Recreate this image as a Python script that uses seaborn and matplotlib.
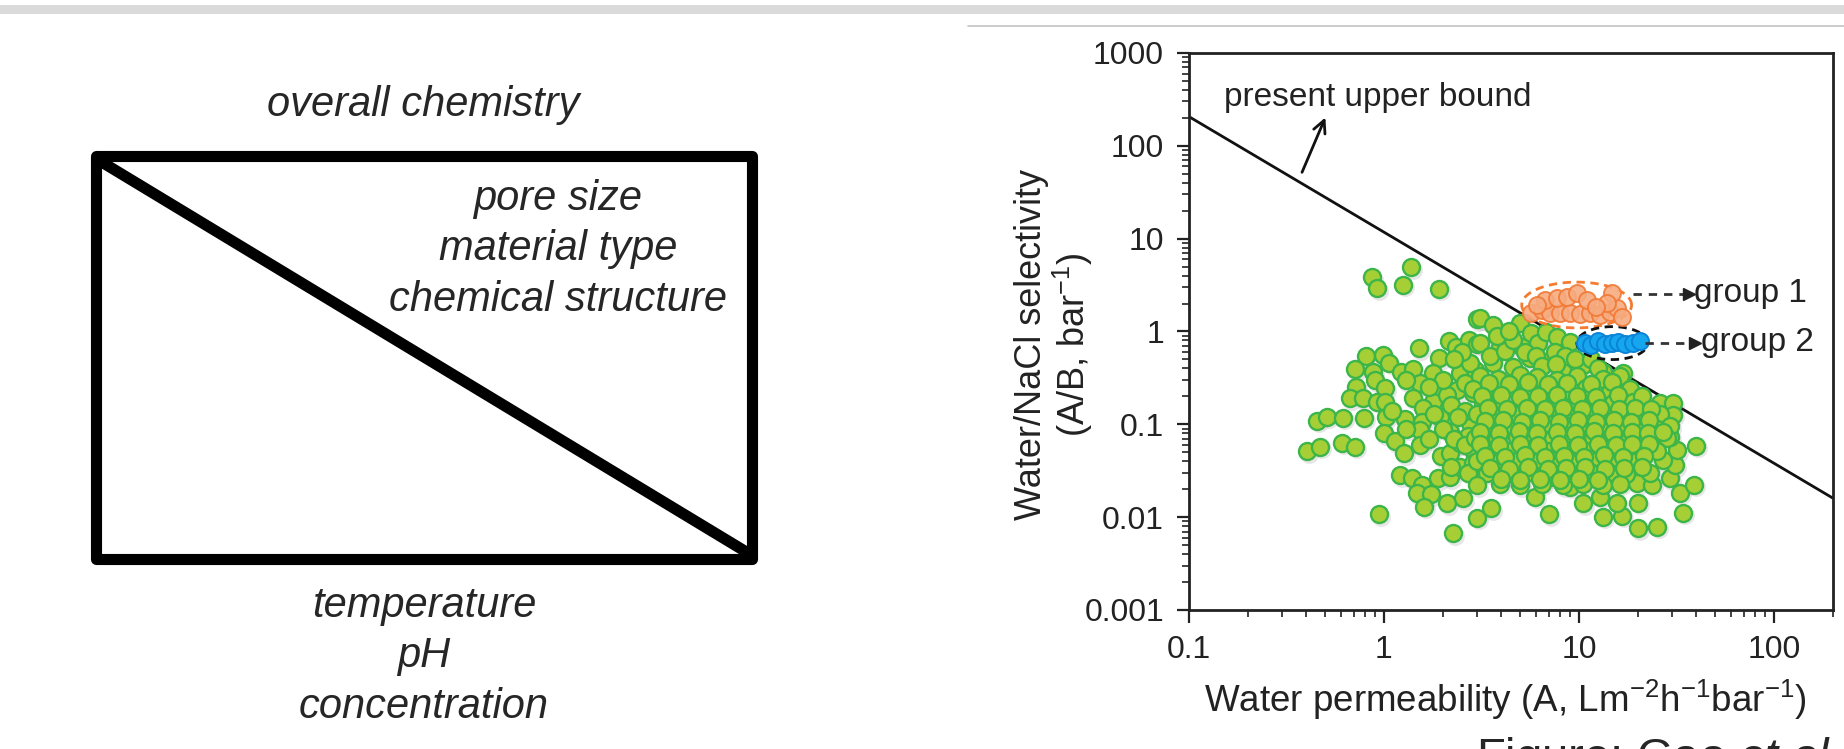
import numpy as np
import pandas as pd
import matplotlib
matplotlib.use("Agg")
import matplotlib.pyplot as plt
import seaborn as sns
from matplotlib.patches import Rectangle
from matplotlib.ticker import LogLocator, NullFormatter
from matplotlib.transforms import offset_copy

sns.set_style("ticks")
plt.rcParams["font.family"] = ["Liberation Sans", "DejaVu Sans"]
plt.rcParams["mathtext.fontset"] = "custom"
plt.rcParams["mathtext.rm"] = "Liberation Sans"
plt.rcParams["mathtext.it"] = "Liberation Sans:italic"
plt.rcParams["mathtext.default"] = "regular"

# ---- data read off the Gao et al. chart (A in Lm-2h-1bar-1, A/B in bar-1) ----
# sparse points, upper left part of the cloud
green_upper_left = [(0.865, 3.84), (0.924, 2.92), (1.37, 4.92), (1.25, 3.17), (1.92, 2.87),
                    (3.01, 1.35), (2.16, 0.796), (2.34, 0.676), (2.74, 0.81), (3.01, 0.733),
                    (1.52, 0.659), (0.809, 0.548), (0.985, 0.562), (1.06, 0.461), (1.92, 0.514),
                    (2.66, 0.473), (0.71, 0.392), (0.881, 0.369), (1.23, 0.369), (1.41, 0.392),
                    (1.79, 0.355), (2.45, 0.355), (2.93, 0.385)]
# left / lower left part of the cloud
green_left = [(0.90, 0.30), (1.53, 0.277), (1.86, 0.254), (2.36, 0.234), (2.87, 0.216),
              (0.718, 0.254), (0.67, 0.191), (0.783, 0.191), (1.01, 0.244), (0.918, 0.175),
              (1.01, 0.175), (1.41, 0.191), (1.79, 0.175), (2.10, 0.207), (1.59, 0.149),
              (0.455, 0.109), (0.508, 0.121), (0.618, 0.118), (0.789, 0.118), (1.02, 0.121),
              (1.28, 0.113), (1.56, 0.107), (1.94, 0.121), (2.18, 0.0832), (2.76, 0.1026),
              (1.53, 0.0869), (1.00, 0.080), (1.14, 0.066), (1.26, 0.0488), (1.53, 0.0598),
              (1.96, 0.0455), (2.18, 0.0488), (2.45, 0.0624), (2.87, 0.0528), (0.402, 0.0515),
              (0.47, 0.0574), (0.607, 0.0634), (0.71, 0.0574), (1.21, 0.0284), (1.40, 0.0262),
              (1.56, 0.0222), (1.90, 0.0262), (2.18, 0.0269), (2.45, 0.0349), (2.87, 0.038),
              (1.47, 0.018), (1.74, 0.0177), (1.61, 0.0129), (2.10, 0.0141), (2.53, 0.016),
              (0.946, 0.0107), (2.27, 0.0067), (2.99, 0.00986)]
# lower right edge of the cloud
green_lower_right = [(3.53, 0.0124), (7.05, 0.0108), (13.3, 0.0101), (16.6, 0.0104), (20.1, 0.0143),
                     (20.1, 0.00757), (25.0, 0.00788), (34.0, 0.0111), (33.0, 0.0183), (38.9, 0.0222),
                     (39.8, 0.0584), (26.0, 0.168), (30.3, 0.168), (30.4, 0.126), (5.95, 0.0166),
                     (7.10, 0.0272), (9.0, 0.0213), (10.5, 0.0141), (12.8, 0.0166), (15.6, 0.0141),
                     (19.8, 0.0231), (23.6, 0.0222), (29.3, 0.0262), (31.1, 0.0364), (31.7, 0.0528),
                     (27.1, 0.0412), (29.3, 0.0735), (25.0, 0.1026), (22.2, 0.0574)]
# top of the cloud, under the line
green_top = [(3.11, 1.39), (3.64, 1.17), (3.11, 0.746), (3.94, 0.686), (4.98, 1.22),
             (5.08, 0.686), (5.71, 0.957), (6.18, 0.746), (6.8, 0.98), (7.69, 0.879),
             (9.0, 0.776), (2.76, 0.454), (3.64, 0.454), (4.60, 0.418), (5.61, 0.514),
             (6.83, 0.473), (8.30, 0.369), (10.5, 0.435), (13.3, 0.369), (16.9, 0.355),
             (3.5, 0.55), (4.2, 0.62), (4.6, 0.8), (3.8, 0.9), (4.4, 1.0), (5.3, 0.6),
             (6.0, 0.55), (7.5, 0.6), (8.5, 0.55), (9.5, 0.5), (6.5, 0.42), (7.6, 0.45),
             (11.5, 0.5), (12.5, 0.4), (2.5, 0.6), (2.3, 0.5), (2.0, 0.3), (2.6, 0.28),
             (1.7, 0.25), (2.2, 0.16), (2.6, 0.14), (1.8, 0.13), (2.4, 0.12), (2.0, 0.09),
             (2.7, 0.075), (2.3, 0.07), (1.7, 0.07), (2.6, 0.06), (2.2, 0.035), (2.7, 0.03),
             (1.3, 0.3), (1.1, 0.14), (1.3, 0.09)]
# dense core of the cloud
green_core = [(3.11, 0.33), (3.86, 0.31), (4.98, 0.34), (6.07, 0.32), (7.68, 0.30), (9.73, 0.335),
              (13.3, 0.31), (16.2, 0.33),
              (2.87, 0.24), (3.50, 0.23), (4.43, 0.245), (5.50, 0.225), (6.83, 0.24), (8.65, 0.23),
              (10.9, 0.245), (14.4, 0.225), (18.3, 0.24),
              (3.23, 0.17), (3.93, 0.18), (4.98, 0.165), (6.31, 0.175), (7.84, 0.18), (9.73, 0.168),
              (12.1, 0.178), (15.0, 0.17), (19.0, 0.175),
              (2.99, 0.13), (3.71, 0.122), (4.60, 0.128), (5.83, 0.12), (7.38, 0.13), (9.00, 0.124),
              (11.2, 0.13), (13.9, 0.12), (16.9, 0.127), (21.4, 0.122), (26.0, 0.13),
              (3.36, 0.095), (4.26, 0.09), (5.39, 0.097), (6.83, 0.092), (8.65, 0.095), (10.7, 0.09),
              (13.3, 0.096), (16.6, 0.092), (20.6, 0.094), (25.0, 0.09), (29.3, 0.095),
              (2.93, 0.072), (3.78, 0.069), (4.79, 0.073), (5.95, 0.07), (7.38, 0.072), (9.36, 0.069),
              (11.8, 0.073), (14.7, 0.07), (18.3, 0.072), (23.1, 0.069), (28.2, 0.072),
              (3.36, 0.053), (4.26, 0.051), (5.39, 0.054), (6.83, 0.052), (8.65, 0.053), (10.7, 0.051),
              (13.3, 0.054), (16.9, 0.052), (20.6, 0.053), (25.0, 0.051),
              (2.99, 0.04), (3.78, 0.038), (4.79, 0.04), (6.07, 0.039), (7.68, 0.041), (9.73, 0.038),
              (12.3, 0.04), (15.6, 0.039), (19.8, 0.04),
              (3.36, 0.03), (4.26, 0.029), (5.61, 0.031), (7.10, 0.03), (9.00, 0.029), (11.4, 0.031),
              (14.4, 0.03), (17.5, 0.029), (23.1, 0.03),
              (2.99, 0.022), (3.93, 0.023), (4.98, 0.022), (6.44, 0.023), (8.31, 0.022), (10.5, 0.023),
              (13.3, 0.022), (16.2, 0.023)]
green_core_fill = [(3.45, 0.28), (4.4, 0.27), (5.5, 0.285), (6.9, 0.275), (8.7, 0.28), (11.5, 0.27),
                   (14.8, 0.285),
                   (3.2, 0.2), (4.0, 0.205), (5.0, 0.198), (6.2, 0.2), (7.7, 0.205), (9.8, 0.2),
                   (12.2, 0.198), (15.8, 0.205), (21.0, 0.2),
                   (3.4, 0.15), (4.3, 0.145), (5.4, 0.15), (6.7, 0.146), (8.3, 0.15), (10.4, 0.146),
                   (12.8, 0.15), (16.0, 0.146), (19.5, 0.15), (23.5, 0.146),
                   (3.3, 0.108), (4.1, 0.11), (5.1, 0.106), (6.3, 0.11), (7.9, 0.107), (9.9, 0.11),
                   (12.2, 0.106), (15.2, 0.11), (18.6, 0.107), (23.0, 0.11),
                   (3.1, 0.082), (3.9, 0.08), (4.9, 0.084), (6.1, 0.081), (7.7, 0.083), (9.6, 0.08),
                   (12.0, 0.084), (15.0, 0.081), (18.8, 0.083), (22.5, 0.08), (27.0, 0.083),
                   (3.1, 0.061), (3.9, 0.06), (5.0, 0.062), (6.2, 0.06), (7.9, 0.062), (9.9, 0.06),
                   (12.5, 0.062), (15.5, 0.06), (18.8, 0.061), (23.0, 0.062),
                   (3.3, 0.046), (4.2, 0.045), (5.3, 0.047), (6.7, 0.045), (8.4, 0.046), (10.6, 0.045),
                   (13.5, 0.047), (16.8, 0.045), (21.5, 0.046),
                   (3.5, 0.034), (4.4, 0.033), (5.5, 0.035), (6.9, 0.033), (8.6, 0.034), (10.8, 0.035),
                   (13.6, 0.033), (17.0, 0.034), (21.0, 0.035),
                   (4.0, 0.026), (5.0, 0.025), (6.3, 0.026), (8.0, 0.025), (10.0, 0.026), (12.6, 0.025)]

group1 = [(5.71, 1.57), (6.44, 1.71), (7.10, 1.57), (8.0, 1.57), (9.0, 1.57), (10.1, 1.54),
          (11.4, 1.57), (12.8, 1.51), (14.4, 1.63), (15.6, 1.78), (16.6, 1.44), (6.69, 2.18),
          (7.69, 2.28), (8.65, 2.37), (9.73, 2.58), (10.96, 2.18), (14.7, 2.58), (13.9, 2.01),
          (6.07, 1.93), (12.3, 1.85)]
group2 = [(10.7, 0.75), (11.6, 0.72), (12.6, 0.78), (13.6, 0.74), (14.7, 0.76), (15.9, 0.77),
          (17.2, 0.74), (19.0, 0.76), (20.6, 0.78)]

bound_perm = [0.1, 200]
bound_sel = [206, 0.0161]

x_ticks = [0.1, 1, 10, 100]
x_tick_labels = ["0.1", "1", "10", "100"]
y_ticks = [0.001, 0.01, 0.1, 1, 10, 100, 1000]
y_tick_labels = ["0.001", "0.01", "0.1", "1", "10", "100", "1000"]

green = pd.DataFrame(green_upper_left + green_left + green_lower_right + green_top
                     + green_core + green_core_fill, columns=["perm", "sel"])
g1 = pd.DataFrame(group1, columns=["perm", "sel"])
g2 = pd.DataFrame(group2, columns=["perm", "sel"])

fig = plt.figure(figsize=(18.44, 7.49), dpi=100)

# ---- left schematic, drawn in pixel space ----
sketch = fig.add_axes([0, 0, 1, 1], zorder=-1)
sketch.set_xlim(0, 1844)
sketch.set_ylim(749, 0)
sketch.axis("off")
sketch.add_patch(Rectangle((0, 5), 1844, 8.5, color="#dadada", lw=0))
sketch.plot([968, 1844], [26, 26], color="#c4c4c4", lw=1.2)
sketch.add_patch(Rectangle((96, 156), 656, 403, fill=False, lw=8, ec="black", joinstyle="round"))
sketch.plot([100, 748], [161, 553], color="black", lw=8, solid_capstyle="round")
ital = dict(ha="center", va="baseline", style="italic", fontsize=30)
sketch.text(423, 116, "overall chemistry", **ital)
sketch.text(558, 210, "pore size", **ital)
sketch.text(558, 260, "material type", **ital)
sketch.text(558, 311, "chemical structure", **ital)
sketch.text(424, 617, "temperature", **ital)
sketch.text(424, 667, "pH", **ital)
sketch.text(424, 718, "concentration", **ital)

# ---- right: permeability / selectivity trade-off ----
ax = fig.add_axes([0.6448, 0.1856, 0.349, 0.7437])
ax.set_xscale("log")
ax.set_yscale("log")
ax.set_xlim(0.1, 200)
ax.set_ylim(0.001, 1000)

ax.plot(bound_perm, bound_sel, color="#111111", lw=2, zorder=2)

shadow = offset_copy(ax.transData, fig=fig, x=2, y=-2.5, units="dots")
ax.scatter(green["perm"], green["sel"], s=185, color="#777777", alpha=0.18, lw=0,
           transform=shadow, zorder=2.5)
sns.scatterplot(data=green, x="perm", y="sel", s=150, color="#a6cf36", edgecolor="#3cb549",
                linewidth=1.7, legend=False, ax=ax, zorder=3)


def ring(pts, pad_x, pad_y, color):
    lx = np.log10(pts["perm"].to_numpy())
    ly = np.log10(pts["sel"].to_numpy())
    cx, cy = (lx.min() + lx.max()) / 2, (ly.min() + ly.max()) / 2
    rx, ry = (lx.max() - lx.min()) / 2 + pad_x, (ly.max() - ly.min()) / 2 + pad_y
    t = np.linspace(0, 2 * np.pi, 120)
    ax.plot(10 ** (cx + rx * np.cos(t)), 10 ** (cy + ry * np.sin(t)), color=color,
            lw=2, ls=(0, (3, 2)), zorder=3.5)


ring(g1, 0.05, 0.12, "#f47b30")
ring(g2, 0.04, 0.16, "#111111")
sns.scatterplot(data=g1, x="perm", y="sel", s=150, color="#f6ab80", edgecolor="#f27a36",
                linewidth=1.4, alpha=0.9, legend=False, ax=ax, zorder=4)
sns.scatterplot(data=g2, x="perm", y="sel", s=150, color="#16a6ee", edgecolor="#0a84d8",
                linewidth=1.4, legend=False, ax=ax, zorder=4)

# dashed pointers to the group names
for start, end, y, label in [(18.9, 36.5, 2.55, "group 1"), (21.8, 39.5, 0.76, "group 2")]:
    ax.plot([start, end], [y, y], color="#333333", lw=2, ls=(0, (3, 2.5)), zorder=4)
    ax.plot([end], [y], marker=">", ms=8, color="#222222", zorder=4)
    ax.text(end * 1.07, y, label, fontsize=24, va="center", ha="left", color="#222222")

ax.annotate("", xy=(0.507, 215), xytext=(0.375, 48.6),
            arrowprops=dict(arrowstyle="->", lw=2, color="#111111", mutation_scale=22))
ax.text(0.151, 269, "present upper bound", fontsize=24, va="baseline", ha="left", color="#222222")

ax.set_xticks(x_ticks, x_tick_labels)
ax.set_yticks(y_ticks, y_tick_labels)
ax.xaxis.set_minor_locator(LogLocator(base=10, subs=np.arange(2, 10), numticks=20))
ax.yaxis.set_minor_locator(LogLocator(base=10, subs=np.arange(2, 10), numticks=20))
ax.xaxis.set_minor_formatter(NullFormatter())
ax.yaxis.set_minor_formatter(NullFormatter())
ax.tick_params(which="major", direction="out", length=9, width=1.6, labelsize=23,
               pad=9, colors="#222222")
ax.tick_params(which="minor", direction="out", length=5, width=1.2, colors="#222222")
for sp in ax.spines.values():
    sp.set_linewidth(2)
    sp.set_color("#222222")

ax.set_ylabel("Water/NaCl selectivity\n(A/B, bar$^{-1}$)", fontsize=26, linespacing=1.05,
              color="#222222")
ax.yaxis.set_label_coords(-0.146, 0.476)
ax.set_xlabel("Water permeability (A, Lm$^{-2}$h$^{-1}$bar$^{-1}$)", fontsize=26.5, color="#222222")
ax.xaxis.set_label_coords(0.491, -0.122)

fig.text(1476 / 1844, (749 - 771) / 749, r"Figure: Gao $\mathit{et\ al.}$", fontsize=34,
         va="baseline", ha="left")

fig.savefig("out.png", dpi=100)
